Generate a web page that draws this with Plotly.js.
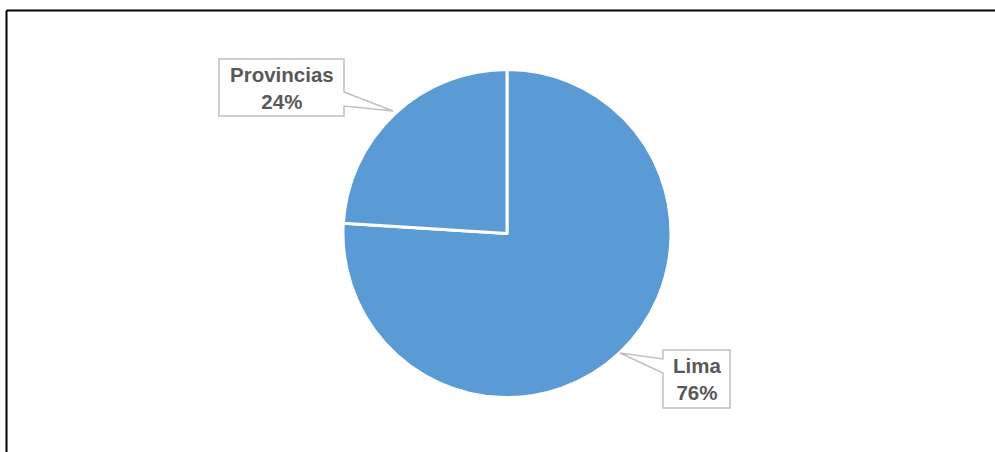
<!DOCTYPE html>
<html>
<head>
<meta charset="utf-8">
<script src="https://cdn.plot.ly/plotly-3.0.1.min.js"></script>
<style>html,body{margin:0;padding:0;background:#fff;}#chart{width:995px;height:452px;}</style>
</head>
<body>
<div id="chart"></div>
<script>
const categories = ["Lima", "Provincias"];
const values = [76, 24];
const pctLabels = ["76%", "24%"];

const W = 995, H = 452;
const px = x => x / W;
const py = y => 1 - y / H;
function path(pts) {
  return "M" + pts.map(p => px(p[0]).toFixed(5) + "," + py(p[1]).toFixed(5)).join(" L") + " Z";
}

const calloutStyle = {type: "path", xref: "paper", yref: "paper", fillcolor: "#ffffff",
  line: {color: "#BFBFBF", width: 1.5}, layer: "above"};

const shapes = [
  {type: "line", xref: "paper", yref: "paper", x0: px(6.5), x1: 1, y0: py(10.5), y1: py(10.5), line: {color: "#000", width: 2}},
  {type: "line", xref: "paper", yref: "paper", x0: px(6.5), x1: px(6.5), y0: py(10.5), y1: 0, line: {color: "#000", width: 2}},
  Object.assign({}, calloutStyle, {path: path([[219,59],[344,59],[344,92],[393,111],[344,106],[344,116],[219,116]])}),
  Object.assign({}, calloutStyle, {path: path([[663,350],[730,350],[730,408],[663,408],[663,373],[620,353],[663,359]])})
];

const labelFont = {family: "Liberation Sans, Arial, sans-serif", size: 20.5, color: "#595959"};
const annotations = [
  {xref: "paper", yref: "paper", x: px(281.5), y: py(88), xanchor: "center", yanchor: "middle",
   text: "<b>" + categories[1] + "<br>" + pctLabels[1] + "</b>", showarrow: false, font: labelFont, align: "center"},
  {xref: "paper", yref: "paper", x: px(696.5), y: py(379), xanchor: "center", yanchor: "middle",
   text: "<b>" + categories[0] + "<br>" + pctLabels[0] + "</b>", showarrow: false, font: labelFont, align: "center"}
];

const data = [{
  type: "pie",
  labels: categories,
  values: values,
  sort: false,
  direction: "clockwise",
  rotation: 0,
  textinfo: "none",
  hoverinfo: "label+percent",
  marker: {colors: ["#5B9BD5", "#5B9BD5"], line: {color: "#ffffff", width: 3}},
  domain: {x: [(507 - 164) / W, (507 + 164) / W], y: [(H - 233.5 - 164) / H, (H - 233.5 + 164) / H]}
}];

const layout = {
  width: W, height: H,
  margin: {l: 0, r: 0, t: 0, b: 0},
  paper_bgcolor: "#ffffff",
  showlegend: false,
  shapes: shapes,
  annotations: annotations
};

Plotly.newPlot("chart", data, layout, {displayModeBar: false, staticPlot: true});
</script>
</body>
</html>
